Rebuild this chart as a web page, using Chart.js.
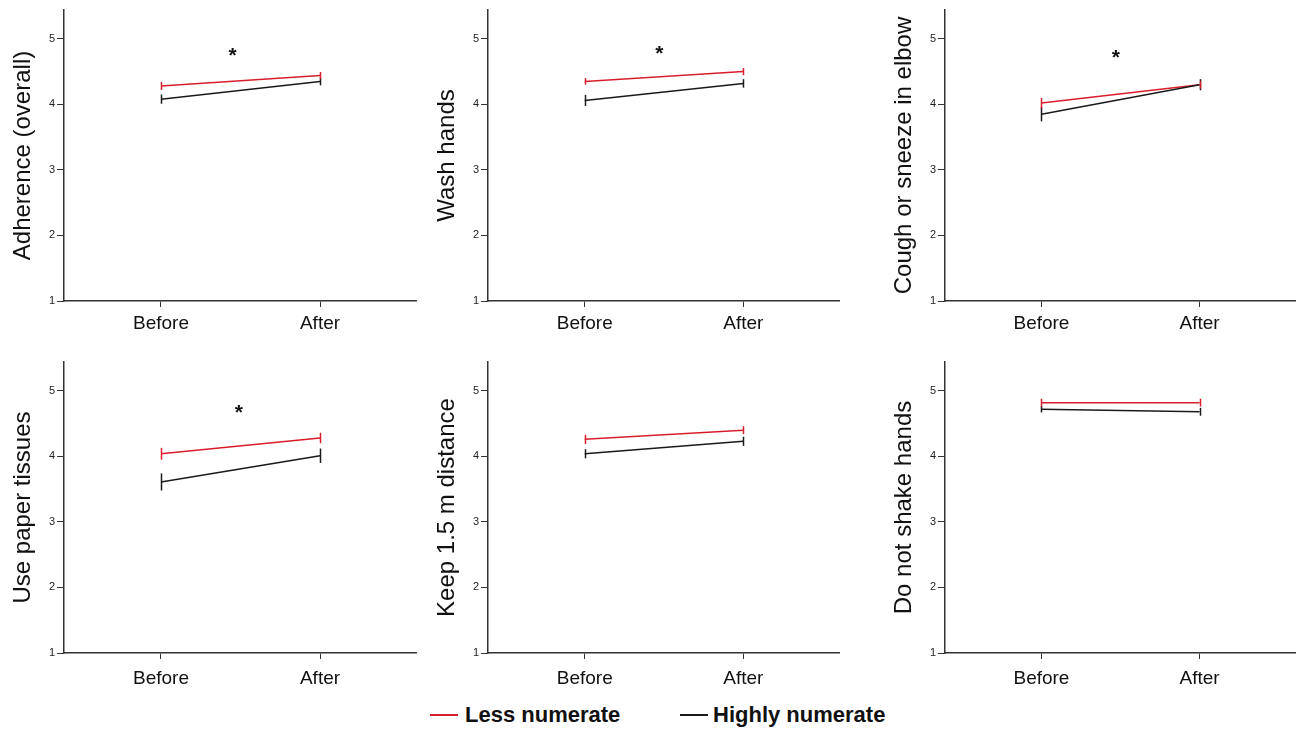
<!DOCTYPE html>
<html>
<head>
<meta charset="utf-8">
<script src="https://cdn.jsdelivr.net/npm/chart.js@4.4.1/dist/chart.umd.min.js"></script>
<style>
  body { margin: 0; background: #fff; width: 1296px; height: 730px; position: relative; overflow: hidden;
         font-family: "Liberation Sans", Arial, sans-serif; }
  canvas { position: absolute; }
  .key { position: absolute; top: 702px; font-size: 22px; font-weight: bold; color: #111; white-space: nowrap; }
  .key i { display: inline-block; width: 28px; height: 2px; vertical-align: middle;
           margin-right: 7px; position: relative; top: -1px; }
</style>
</head>
<body>
<canvas id="c0" width="417" height="345" style="left:0px;top:0px"></canvas>
<canvas id="c1" width="416" height="345" style="left:424px;top:0px"></canvas>
<canvas id="c2" width="415" height="345" style="left:881px;top:0px"></canvas>
<canvas id="c3" width="417" height="345" style="left:0px;top:352px"></canvas>
<canvas id="c4" width="416" height="345" style="left:424px;top:352px"></canvas>
<canvas id="c5" width="415" height="345" style="left:881px;top:352px"></canvas>
<div class="key" style="left:430px"><i style="background:#d81e2c"></i>Less numerate</div>
<div class="key" style="left:680px"><i style="background:#1a1a1a;margin-right:5px"></i>Highly numerate</div>
<script>
'use strict';

// values (means and half-length of the error bars)
let titles = ['Adherence (overall)', 'Wash hands', 'Cough or sneeze in elbow',
              'Use paper tissues', 'Keep 1.5 m distance', 'Do not shake hands'];
let timeLabels = ['Before', 'After'];
let yTicks = [1, 2, 3, 4, 5];
let lessMean = [[4.28, 4.44], [4.35, 4.50], [4.02, 4.30], [4.04, 4.28], [4.26, 4.40], [4.82, 4.82]];
let lessErr  = [[0.06, 0.055], [0.05, 0.055], [0.08, 0.06], [0.09, 0.08], [0.07, 0.06], [0.06, 0.06]];
let highMean = [[4.08, 4.35], [4.06, 4.32], [3.85, 4.30], [3.61, 4.01], [4.04, 4.23], [4.72, 4.68]];
let highErr  = [[0.07, 0.06], [0.085, 0.065], [0.11, 0.085], [0.13, 0.11], [0.07, 0.07], [0.05, 0.06]];
let starX = [0.45, 0.47, 0.47, 0.49, null, null];
let starY = [4.83, 4.86, 4.80, 4.75, null, null];

Chart.defaults.font.family = '"Liberation Sans", Arial, sans-serif';

let red = '#d81e2c';
let black = '#1a1a1a';

// vertical error segments at each mean
let errorBars = {
  id: 'errorBars',
  afterDatasetsDraw(chart) {
    let ctx = chart.ctx;
    let x = chart.scales.x, y = chart.scales.y;
    chart.data.datasets.forEach(function (ds) {
      ctx.save();
      ctx.strokeStyle = ds.borderColor;
      ctx.lineWidth = 1.5;
      ds.data.forEach(function (p, j) {
        let e = ds.errors[j];
        let px = Math.round(x.getPixelForValue(p.x)) + 0.5;
        ctx.beginPath();
        ctx.moveTo(px, y.getPixelForValue(p.y - e));
        ctx.lineTo(px, y.getPixelForValue(p.y + e));
        ctx.stroke();
      });
      ctx.restore();
    });
  }
};

// significance asterisk
let stars = {
  id: 'stars',
  afterDraw(chart, args, opts) {
    if (opts.x == null) return;
    let ctx = chart.ctx;
    ctx.save();
    ctx.fillStyle = '#111';
    ctx.font = 'bold 21px "Liberation Sans", Arial, sans-serif';
    ctx.textAlign = 'center';
    ctx.textBaseline = 'alphabetic';
    ctx.fillText('*', chart.scales.x.getPixelForValue(opts.x), chart.scales.y.getPixelForValue(opts.y) + 12);
    ctx.restore();
  }
};

function makeChart(i) {
  let canvasElem = document.getElementById('c' + i);
  new Chart(canvasElem, {
    type: 'line',
    data: {
      datasets: [{
        label: 'Highly numerate',
        data: highMean[i].map(function (v, j) { return { x: j, y: v }; }),
        errors: highErr[i],
        borderColor: black,
        borderWidth: 1.5,
        pointRadius: 0,
        tension: 0,
        fill: false
      }, {
        label: 'Less numerate',
        data: lessMean[i].map(function (v, j) { return { x: j, y: v }; }),
        errors: lessErr[i],
        borderColor: red,
        borderWidth: 1.5,
        pointRadius: 0,
        tension: 0,
        fill: false
      }]
    },
    options: {
      responsive: false,
      animation: false,
      layout: { padding: { top: 10, right: 0, left: 0, bottom: 0 } },
      plugins: {
        legend: { display: false },
        tooltip: { enabled: false },
        stars: { x: starX[i], y: starY[i] }
      },
      scales: {
        x: {
          type: 'linear',
          min: -0.61,
          max: 1.61,
          afterBuildTicks: function (s) { s.ticks = [{ value: 0 }, { value: 1 }]; },
          afterFit: function (s) { s.height = 44; },
          ticks: {
            callback: function (v) { return timeLabels[v]; },
            font: { size: 19 },
            color: '#111',
            padding: i < 3 ? 5 : 8,
            maxRotation: 0,
            autoSkip: false
          },
          grid: { drawOnChartArea: false, tickLength: 6, color: '#333' },
          border: { color: '#333', width: 1.5 }
        },
        y: {
          min: 1,
          max: 5.44,
          afterBuildTicks: function (s) { s.ticks = yTicks.map(function (v) { return { value: v }; }); },
          afterFit: function (s) { s.width = 64; },
          ticks: { font: { size: 11 }, color: '#222', padding: 2 },
          grid: { drawOnChartArea: false, tickLength: 7, color: '#333' },
          border: { color: '#333', width: 1.5 },
          title: {
            display: true,
            text: titles[i],
            font: { size: 24 },
            color: '#111',
            padding: { top: 9, bottom: 0 }
          }
        }
      }
    },
    plugins: [errorBars, stars]
  });
}

for (let i = 0; i < titles.length; i++) {
  makeChart(i);
}
</script>
</body>
</html>
